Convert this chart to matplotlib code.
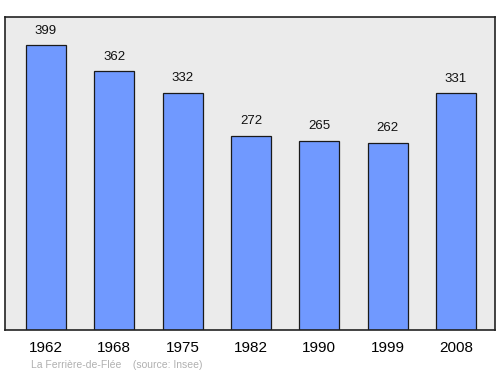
import matplotlib
matplotlib.use("Agg")
import matplotlib.pyplot as plt

plt.rcParams["font.family"] = ["Liberation Sans", "DejaVu Sans"]

years = ["1962", "1968", "1975", "1982", "1990", "1999", "2008"]
population = [399, 362, 332, 272, 265, 262, 331]
footer = "La Ferrière-de-Flée    (source: Insee)"

fig = plt.figure(figsize=(5, 3.74), dpi=100)
ax = fig.add_axes([0.01, 0.1176, 0.98, 0.837])
ax.set_facecolor("#ebebeb")
x = list(range(len(years)))
bars = ax.bar(x, population, width=0.585, color="#7099ff", edgecolor="#1a1a1a", linewidth=0.9)
for xi, v in zip(x, population):
    ax.annotate(str(v), (xi, v), xytext=(0, 6), textcoords="offset points",
                ha="center", va="bottom", fontsize=9.5, color="#111111")
ax.set_xlim(-0.6, 6.57)
ax.set_ylim(0, 438)
ax.set_xticks(x)
ax.set_xticklabels(years, fontsize=11)
ax.tick_params(axis="x", length=0, pad=8)
ax.set_yticks([])
for s in ax.spines.values():
    s.set_linewidth(1.2)
    s.set_color("#222222")
fig.text(0.062, 0.012, footer, fontsize=7.5, color="#b0b0b0", ha="left", va="bottom")
fig.savefig("out.png", dpi=100)
